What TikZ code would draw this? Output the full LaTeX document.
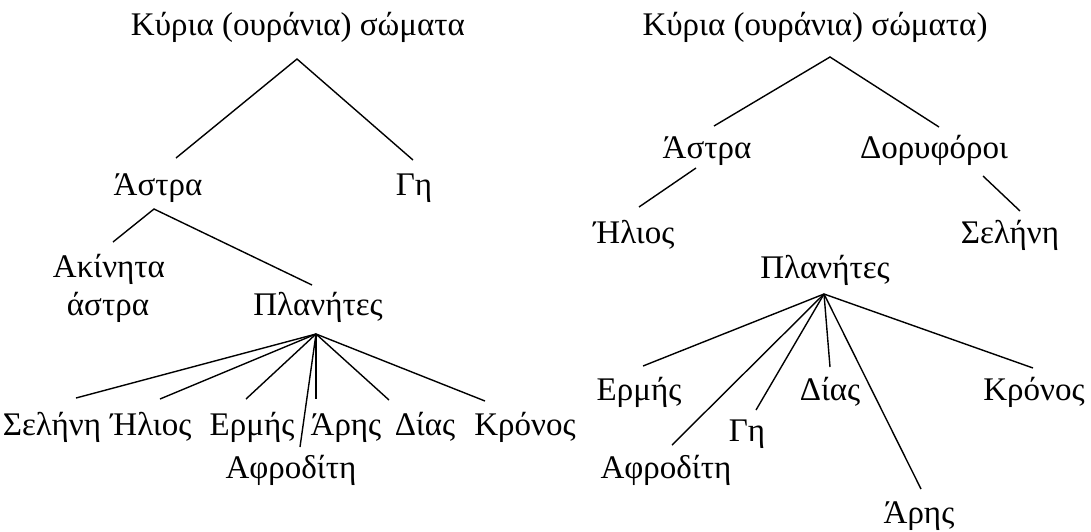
\documentclass[tikz,border=0pt]{standalone}
\usepackage{fontspec}
\setmainfont{Liberation Serif}
\begin{document}
\begin{tikzpicture}[x=1pt,y=-1pt,
  lbl/.style={anchor=base,inner sep=0pt,font=\fontsize{33}{37}\selectfont},
  edge/.style={line width=1.4pt}]
\useasboundingbox[fill=white] (0,0) rectangle (1091,531);
% ---------- left tree ----------
\node[lbl] (L0) at (298,35) {Κύρια (ουράνια) σώματα};
\node[lbl] (La) at (158,195) {Άστρα};
\node[lbl] (Lg) at (414,195) {Γη};
\node[lbl] (Lak) at (109,277) {Ακίνητα};
\node[lbl] (Lak2) at (108,315) {άστρα};
\node[lbl] (Lp) at (318,315) {Πλανήτες};
\node[lbl] (L1) at (52,435) {Σελήνη};
\node[lbl] (L2) at (151,435) {Ήλιος};
\node[lbl] (L3) at (252,435) {Ερμής};
\node[lbl] (L4) at (291,478) {Αφροδίτη};
\node[lbl] (L5) at (346,435) {Άρης};
\node[lbl] (L6) at (425,435) {Δίας};
\node[lbl] (L7) at (525,435) {Κρόνος};
\coordinate (L0s) at (297,59);
\coordinate (Lan) at (176,158);
\coordinate (Lgn) at (413,160);
\coordinate (Las) at (154,209);
\coordinate (Lakn) at (113,242);
\coordinate (Lpn) at (312,285);
\coordinate (Lps) at (316,334);
\coordinate (L1n) at (76,398);
\coordinate (L2n) at (160,399);
\coordinate (L3n) at (246,399);
\coordinate (L4n) at (300,447);
\coordinate (L5n) at (316,399);
\coordinate (L6n) at (389,400);
\coordinate (L7n) at (485,401);
\draw[edge] (Lan) -- (L0s) -- (Lgn);
\draw[edge] (Lakn) -- (Las) -- (Lpn);
\foreach \k in {1,...,7}{\draw[edge] (Lps) -- (L\k n);}
% ---------- right tree ----------
\node[lbl] (R0) at (815,35) {Κύρια (ουράνια) σώματα)};
\node[lbl] (Ra) at (707,158) {Άστρα};
\node[lbl] (Rd) at (934,158) {Δορυφόροι};
\node[lbl] (Rh) at (634,243) {Ήλιος};
\node[lbl] (Rs) at (1010,243) {Σελήνη};
\node[lbl] (Rp) at (825,278) {Πλανήτες};
\node[lbl] (R1) at (639,400) {Ερμής};
\node[lbl] (R2) at (666,478) {Αφροδίτη};
\node[lbl] (R3) at (747,441) {Γη};
\node[lbl] (R4) at (830,400) {Δίας};
\node[lbl] (R5) at (919,523) {Άρης};
\node[lbl] (R6) at (1034,400) {Κρόνος};
\coordinate (R0s) at (830,57);
\coordinate (Ran) at (714,126);
\coordinate (Rdn) at (939,127);
\coordinate (Ras) at (696,168);
\coordinate (Rhn) at (639,207);
\coordinate (Rds) at (983,176);
\coordinate (Rsn) at (1020,211);
\coordinate (Rps) at (824,294);
\coordinate (R1n) at (643,366);
\coordinate (R2n) at (672,445);
\coordinate (R3n) at (756,410);
\coordinate (R4n) at (830,367);
\coordinate (R5n) at (921,489);
\coordinate (R6n) at (1033,368);
\draw[edge] (Ran) -- (R0s) -- (Rdn);
\draw[edge] (Ras) -- (Rhn);
\draw[edge] (Rds) -- (Rsn);
\foreach \k in {1,...,6}{\draw[edge] (Rps) -- (R\k n);}
\end{tikzpicture}
\end{document}
